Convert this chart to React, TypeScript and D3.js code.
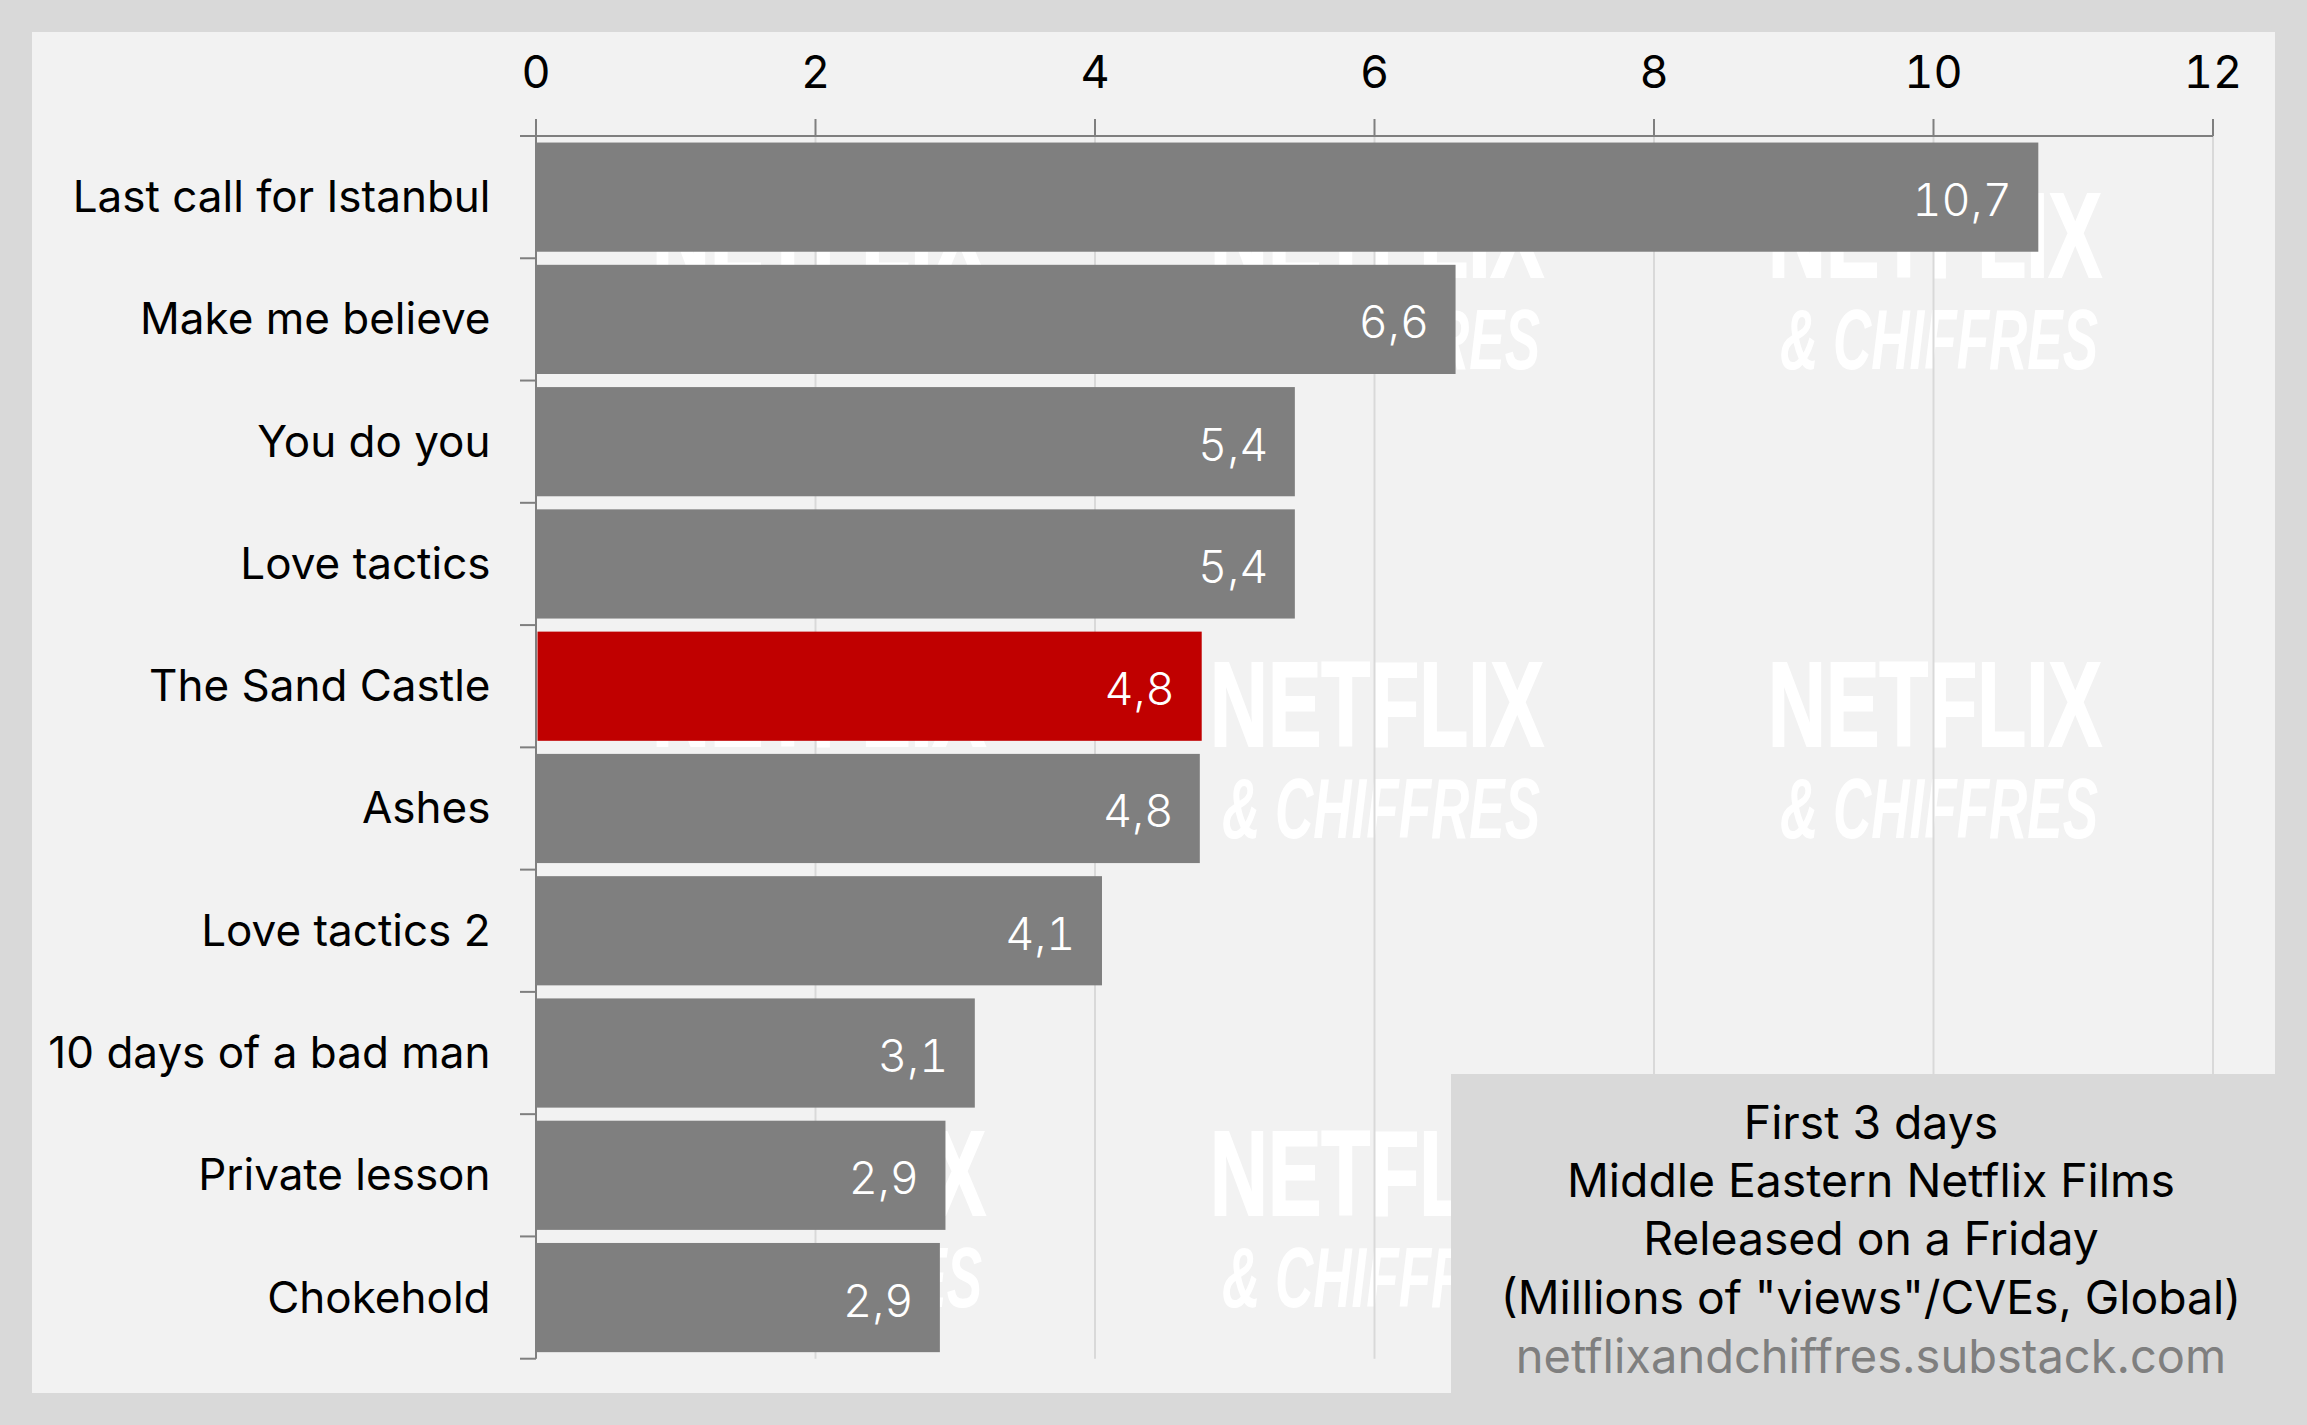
import React from "react";
import * as d3 from "d3";

const categories = ["Last call for Istanbul","Make me believe","You do you","Love tactics","The Sand Castle","Ashes","Love tactics 2","10 days of a bad man","Private lesson","Chokehold"];
const values = [10.75,6.58,5.43,5.43,4.76,4.75,4.05,3.14,2.93,2.89];
const valueLabels = ["10,7","6,6","5,4","5,4","4,8","4,8","4,1","3,1","2,9","2,9"];
const highlighted = "The Sand Castle";
const xTicks = [0,2,4,6,8,10,12];
const infoLines = ["First 3 days","Middle Eastern Netflix Films","Released on a Friday","(Millions of \"views\"/CVEs, Global)"];
const sourceLine = "netflixandchiffres.substack.com";
const watermarkCols = [654,1212,1770];
const watermarkRows = [190,659,1128];

const W = 2307, H = 1425;
const FONT = "Inter, sans-serif";
const TNUM = { fontFeatureSettings: "'tnum' 1" };

export default function App() {
  const x = d3.scaleLinear().domain([0,12]).range([536,2213]);
  const y = d3.scaleBand<string>().domain(categories).range([136,1358.7]).paddingInner(0.107).paddingOuter(0.0535);
  const band = y.step();
  const top = 136, bottom = 1358.7;
  return (
    <svg width={W} height={H} viewBox={`0 0 ${W} ${H}`} style={{position:"absolute",left:0,top:0,display:"block"}}>
      <rect width={W} height={H} fill="#d9d9d9"/>
      <rect x={32} y={32} width={2243} height={1361} fill="#f2f2f2"/>
      {watermarkRows.flatMap(r => watermarkCols.map(c => (
        <g key={`${r}-${c}`} fill="#ffffff">
          <text x={c-2} y={r+87} fontFamily="'Liberation Sans Narrow', 'Liberation Sans', sans-serif" fontWeight={700} fontSize={120} textLength={334} lengthAdjust="spacingAndGlyphs" stroke="#ffffff" strokeWidth={2}>NETFLIX</text>
          <text x={c+10} y={r+179} fontFamily="'Liberation Sans Narrow', 'Liberation Sans', sans-serif" fontStyle="italic" fontWeight={700} fontSize={86} textLength={318} lengthAdjust="spacingAndGlyphs">&amp; CHIFFRES</text>
        </g>
      )))}
      {xTicks.map(t => (
        <line key={t} x1={x(t)} x2={x(t)} y1={top} y2={bottom} stroke="#d9d9d9" strokeWidth={2}/>
      ))}
      {categories.map((c,i) => (
        <rect key={c} x={c===highlighted ? x(0)+1.5 : x(0)} y={y(c)} width={x(values[i])-x(0)-(c===highlighted?1:0)} height={y.bandwidth()} fill={c===highlighted?"#c00000":"#7f7f7f"}/>
      ))}
      <line x1={x(0)} x2={x(12)} y1={top} y2={top} stroke="#7f7f7f" strokeWidth={2.2}/>
      <line x1={x(0)} x2={x(0)} y1={119} y2={bottom} stroke="#7f7f7f" strokeWidth={2}/>
      {xTicks.map(t => (
        <g key={t}>
          <line x1={x(t)} x2={x(t)} y1={119} y2={top} stroke="#7f7f7f" strokeWidth={2}/>
          <text x={x(t)} y={87.5} textAnchor="middle" fontFamily={FONT} fontSize={45} fill="#000" style={TNUM}>{t}</text>
        </g>
      ))}
      {d3.range(categories.length+1).map(i => (
        <line key={i} x1={520} x2={536} y1={top+i*band} y2={top+i*band} stroke="#7f7f7f" strokeWidth={2}/>
      ))}
      {categories.map((c,i) => (
        <g key={c}>
          <text x={490.5} y={(y(c) as number)+y.bandwidth()/2+15} textAnchor="end" fontFamily={FONT} fontSize={44} fill="#000">{c}</text>
          <text x={x(values[i])-26.5} y={(y(c) as number)+y.bandwidth()/2+19} textAnchor="end" fontFamily={FONT} fontWeight={300} fontSize={45} fill="#fff" style={TNUM}>{valueLabels[i]}</text>
        </g>
      ))}
      <rect x={1451} y={1074} width={824} height={319} fill="#d9d9d9"/>
      {infoLines.map((l,i) => (
        <text key={l} x={1871} y={1138.5+i*58.4} textAnchor="middle" fontFamily={FONT} fontSize={46.3} fill="#000">{l}</text>
      ))}
      <text x={1871} y={1372.5} textAnchor="middle" fontFamily={FONT} fontSize={47} fill="#7f7f7f">{sourceLine}</text>
    </svg>
  );
}
